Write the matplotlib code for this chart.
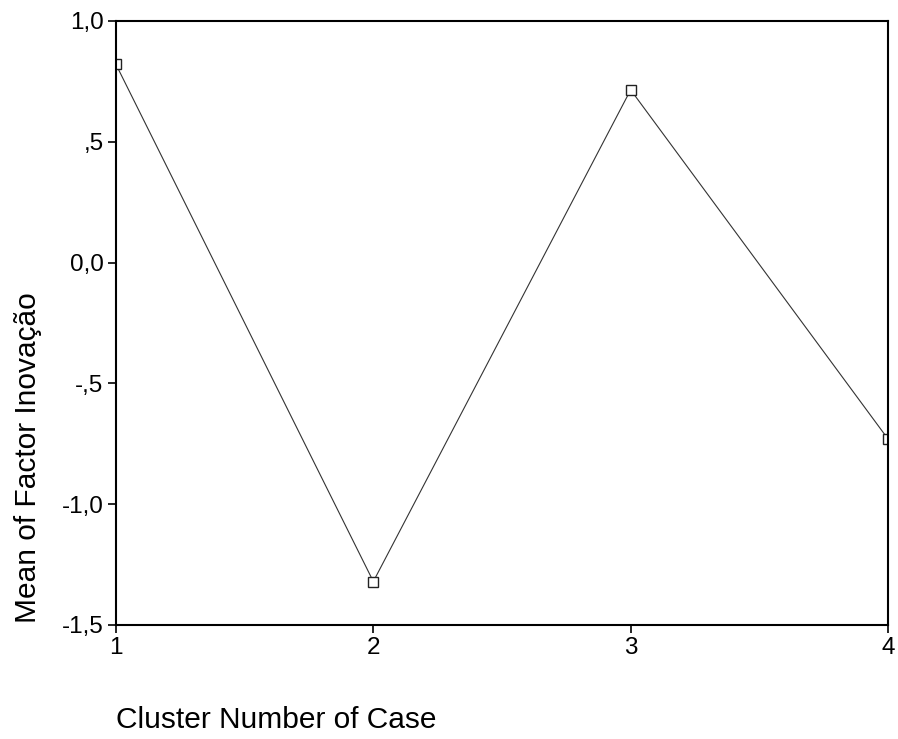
import matplotlib.pyplot as plt
from matplotlib.ticker import FuncFormatter

# Datos
clusters = [1, 2, 3, 4]
medias = [0.82, -1.32, 0.715, -0.73]
yticks = [-1.5, -1.0, -0.5, 0.0, 0.5, 1.0]

plt.rcParams['font.family'] = ['Liberation Sans', 'DejaVu Sans']

fig = plt.figure(figsize=(8.98, 7.39), dpi=100)
ax = fig.add_axes([116 / 898, 1 - 625 / 739, (888 - 116) / 898, (625 - 21) / 739])

ax.plot(clusters, medias, color="#333333", linewidth=0.8,
        marker="s", markersize=7, markerfacecolor="white",
        markeredgecolor="#222222", markeredgewidth=1.0)

ax.set_xlim(1, 4)
ax.set_ylim(-1.5, 1.0)
ax.set_xticks(clusters)
ax.set_yticks(yticks)


def fmt(v, pos):
    s = "%.1f" % v
    s = s.replace(".", ",")
    if s.startswith("0,") and v != 0:
        s = s[1:]
    if s.startswith("-0,"):
        s = "-" + s[2:]
    return s


ax.yaxis.set_major_formatter(FuncFormatter(fmt))
ax.tick_params(direction="out", length=6, width=1.2, labelsize=17.5, pad=3)
for sp in ax.spines.values():
    sp.set_linewidth(1.5)

fig.text(28 / 898, 1 - 458 / 739, "Mean of Factor Inovação", rotation=90,
         ha="center", va="center", fontsize=21.5)
fig.text(116 / 898, 1 - 720 / 739, "Cluster Number of Case",
         ha="left", va="center", fontsize=21.5)

fig.savefig("out.png", dpi=100)
